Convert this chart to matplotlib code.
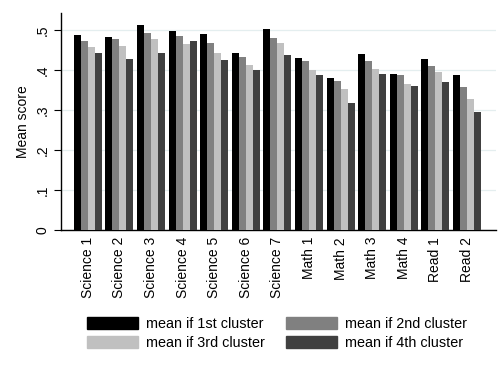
import numpy as np
import matplotlib.pyplot as plt
import matplotlib.patches as mpatches

plt.rcParams['font.family'] = ['Liberation Sans', 'DejaVu Sans']

subjects = ['Science 1', 'Science 2', 'Science 3', 'Science 4', 'Science 5', 'Science 6',
            'Science 7', 'Math 1', 'Math 2', 'Math 3', 'Math 4', 'Read 1', 'Read 2']
cluster1 = [0.488, 0.483, 0.513, 0.498, 0.490, 0.443, 0.503, 0.430, 0.380, 0.440, 0.390, 0.428, 0.388]
cluster2 = [0.473, 0.478, 0.493, 0.485, 0.468, 0.433, 0.480, 0.423, 0.373, 0.423, 0.388, 0.410, 0.358]
cluster3 = [0.458, 0.460, 0.478, 0.465, 0.443, 0.413, 0.468, 0.400, 0.353, 0.403, 0.365, 0.395, 0.328]
cluster4 = [0.443, 0.428, 0.443, 0.473, 0.425, 0.400, 0.438, 0.388, 0.318, 0.390, 0.360, 0.370, 0.295]
y_ticks = [0, 0.1, 0.2, 0.3, 0.4, 0.5]
y_ticklabels = ['0', '.1', '.2', '.3', '.4', '.5']

series = [cluster1, cluster2, cluster3, cluster4]
labels = ['mean if 1st cluster', 'mean if 2nd cluster', 'mean if 3rd cluster', 'mean if 4th cluster']
colors = ['#000000', '#808080', '#c0c0c0', '#404040']

fig = plt.figure(figsize=(5.01, 3.67), dpi=100)
ax = fig.add_axes([0.1218, 0.3733, 0.9900 - 0.1218, 0.9646 - 0.3733])

x = np.arange(len(subjects))
w = 0.2215
for k, vals in enumerate(series):
    ax.bar(x + (k - 1.5) * w, vals, width=w, color=colors[k], linewidth=0, zorder=3)

ax.set_xlim(-0.85, 12.92)
ax.set_ylim(0, 0.5425)
ax.set_yticks(y_ticks)
ax.set_yticklabels(y_ticklabels, rotation=90, va='center', fontsize=10)
ax.set_xticks(x)
ax.set_xticklabels(subjects, rotation=90, fontsize=10)
ax.tick_params(axis='x', length=0, pad=5)
ax.tick_params(axis='y', length=5, width=0.8, pad=3)
ax.grid(axis='y', color='#e4eeef', linewidth=0.9, zorder=0)
ax.spines['top'].set_visible(False)
ax.spines['right'].set_visible(False)
ax.spines['left'].set_linewidth(1.0)
ax.spines['bottom'].set_linewidth(1.0)
ax.set_ylabel('Mean score', fontsize=10, labelpad=4)

# legend fills column-wise, so reorder to get 1st/2nd on the top row
order = [0, 2, 1, 3]
handles = [mpatches.Patch(color=colors[i], label=labels[i]) for i in order]
fig.legend(handles=handles, loc='center', bbox_to_anchor=(0.553, 0.0915), ncol=2,
           fontsize=10.4, frameon=False, handlelength=3.5, handleheight=0.9,
           handletextpad=0.55, columnspacing=1.5, labelspacing=0.35, borderpad=0)

fig.savefig('out.png', dpi=100)
